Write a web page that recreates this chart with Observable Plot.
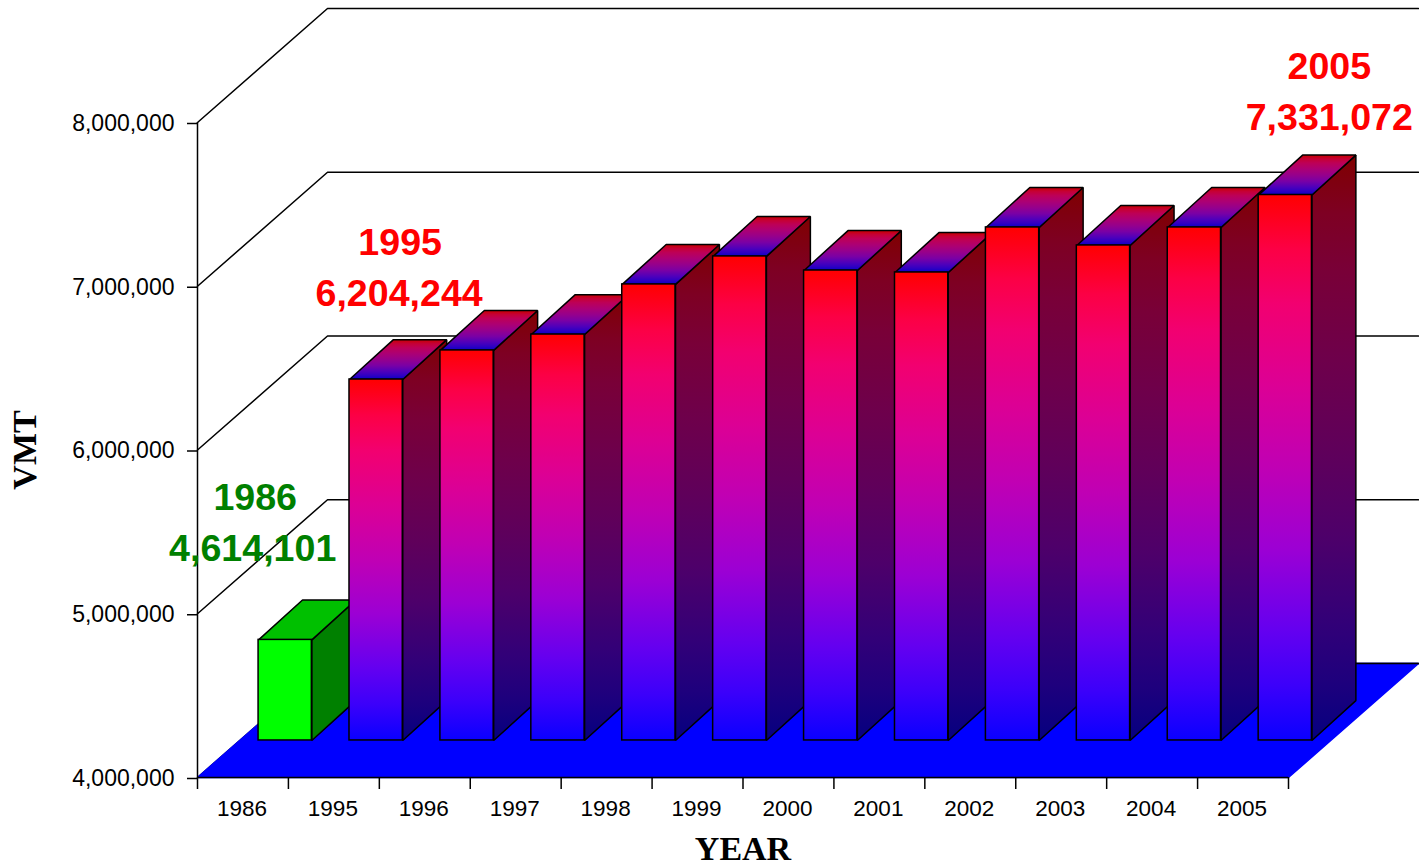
<!DOCTYPE html>
<html>
<head>
<meta charset="utf-8">
<script src="https://cdn.jsdelivr.net/npm/d3@7"></script>
<script src="https://cdn.jsdelivr.net/npm/@observablehq/plot@0.6"></script>
<style>
html,body{margin:0;padding:0;background:#fff}
svg{display:block}
</style>
</head>
<body>
<div id="chart"></div>
<script>
const years = ["1986","1995","1996","1997","1998","1999","2000","2001","2002","2003","2004","2005"];
const vmt = [4614101,6204244,6382000,6479000,6785000,6956000,6870000,6858000,7133000,7023000,7133000,7331072];
const yTicks = [4000000,5000000,6000000,7000000,8000000];
const notes = [
  {year:"1986", color:"#008000", dxYear:-30, dxValue:-32.5, dyYear:-142, dyValue:-91},
  {year:"1995", color:"#ff0000", dxYear:24,  dxValue:23,    dyYear:-137, dyValue:-86},
  {year:"2005", color:"#ff0000", dxYear:44,  dxValue:44,    dyYear:-128, dyValue:-77}
];
const gradientOffsets = [0, 0.1, 0.2, 0.35, 0.5, 0.65, 0.8, 0.9, 1];
const gradientColors = ["#ff0000","#fc0045","#f20070","#dc0095","#c000b4","#9c00d4","#6400f0","#3c00fa","#0a00ff"];

// Oblique projection: depth 0 is the front of the floor, depth 1 the back wall.
const depthX = 1.43, depthY = 696000, front = 0.325, backX = 0.663, backY = 0.675, base = 4000000;
const pt = (x, v, d, dv = d) => ({x: x + d * depthX, y: v + dv * depthY});
const line = {stroke:"#000", strokeWidth:1.5};
const poly = (pts, fill, stroke = "#000") =>
  Plot.line(pts, {x:"x", y:"y", curve:"linear-closed", fill, stroke, strokeWidth:1.5, strokeLinejoin:"miter"});
const path = pts => Plot.line(pts, {x:"x", y:"y", ...line});

const stops = level => gradientColors.map((c, i) => {
  const k = d3.rgb(c);
  const color = d3.rgb(k.r * level, k.g * level, k.b * level).formatHex();
  return `<stop offset="${gradientOffsets[i]}" stop-color="${color}"/>`;
}).join("");
const defs = () => d3.create("svg:g").html(`<defs>
  <linearGradient id="gFront" x1="0" y1="0" x2="0" y2="1">${stops(1)}</linearGradient>
  <linearGradient id="gSide" x1="0" y1="0" x2="0" y2="1">${stops(0.5)}</linearGradient>
  <linearGradient id="gTop" x1="0" y1="0" x2="0" y2="1">${stops(0.78)}</linearGradient>
</defs>`).node();

const grid = yTicks.map(v => path([pt(0, v, 0), pt(0, v, 1), pt(12, v, 1)]));

const bars = years.flatMap((year, i) => {
  const x0 = i + 0.207, x1 = i + 0.793, v = vmt[i], green = i === 0;
  return [
    poly([pt(x1, base, front), pt(x1, base, backX, backY), pt(x1, v, backX, backY), pt(x1, v, front)], green ? "#008000" : "url(#gSide)"),
    poly([pt(x0, v, front), pt(x1, v, front), pt(x1, v, backX, backY), pt(x0, v, backX, backY)], green ? "#00c000" : "url(#gTop)"),
    Plot.rect([{
      x1: pt(x0, 0, front).x, x2: pt(x1, 0, front).x,
      y1: pt(0, base, front).y, y2: pt(0, v, front).y
    }], {x1:"x1", x2:"x2", y1:"y1", y2:"y2", fill: green ? "#00ff00" : "url(#gFront)", ...line})
  ];
});

const labels = notes.flatMap(n => {
  const i = years.indexOf(n.year);
  const anchor = pt(i + 0.5, vmt[i], front);
  const opts = {x:anchor.x, y:anchor.y, fill:n.color, fontSize:37.6, fontWeight:"bold", textAnchor:"middle"};
  return [
    Plot.text([n.year], {...opts, text:d => d, dx:n.dxYear, dy:n.dyYear}),
    Plot.text([vmt[i]], {...opts, text:d => d3.format(",")(d), dx:n.dxValue, dy:n.dyValue})
  ];
});

const chart = Plot.plot({
  width:1419, height:866,
  marginLeft:197, marginRight:131, marginTop:122, marginBottom:89,
  style:{fontFamily:"'Liberation Sans',Arial,sans-serif", background:"#fff", color:"#000", overflow:"visible"},
  x:{domain:[0,12], axis:null, label:null},
  y:{domain:[4000000,8000000], axis:null, label:null},
  marks:[
    defs,
    ...grid,
    poly([pt(0,base,0), pt(12,base,0), pt(12,base,1), pt(0,base,1)], "#0000ff", "#0000ff"),
    path([pt(0,base,1), pt(12,base,1)]),
    Plot.ruleX([0], {y1:4000000, y2:8000000, ...line}),
    Plot.ruleY([base], {x1:0, x2:12, ...line}),
    Plot.axisY({ticks:yTicks, tickFormat:d3.format(","), tickSize:10, tickPadding:13, fontSize:23, label:null, strokeWidth:1.5, dy:1}),
    Plot.ruleX(d3.range(0, 13), {x:d => d, y1:base, y2:base, insetBottom:-12, ...line}),
    Plot.axisX({ticks:years.map((y,i) => i + 0.5), tickFormat:d => years[Math.floor(d)], tickSize:0, tickPadding:23, fontSize:22.5, label:null, dx:-1}),
    ...bars,
    ...labels,
    Plot.text(["YEAR"], {frameAnchor:"bottom", dy:82, fontSize:34, fontWeight:"bold", fontFamily:"'Liberation Serif',serif"}),
    Plot.text(["VMT"], {frameAnchor:"left", textAnchor:"middle", dx:-172, rotate:-90, fontSize:34, fontWeight:"bold", fontFamily:"'Liberation Serif',serif"})
  ]
});
document.getElementById("chart").appendChild(chart);
</script>
</body>
</html>
